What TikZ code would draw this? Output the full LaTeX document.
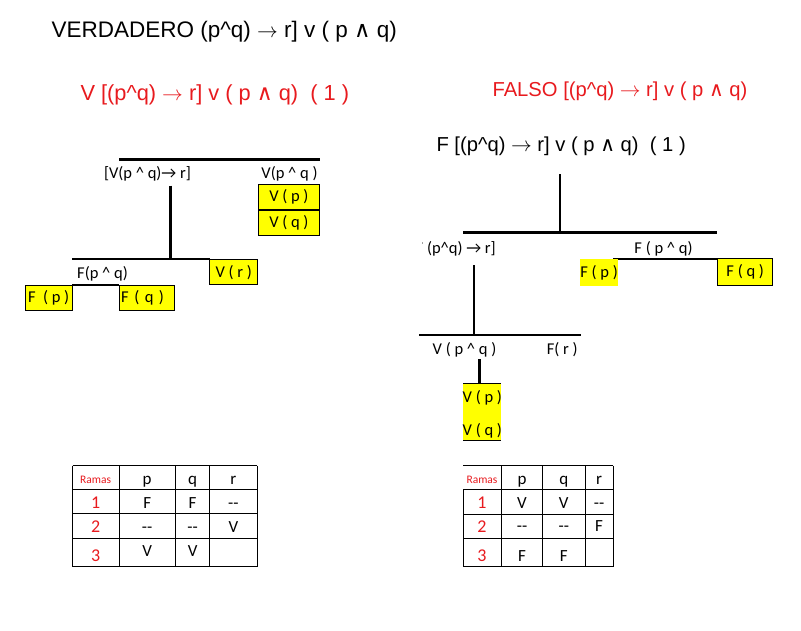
\documentclass[tikz,border=0pt]{standalone}
\usepackage{fontspec}
\setmainfont{Liberation Sans}
\newfontfamily\calib{Carlito}
\newfontfamily\djv{DejaVu Sans}
\newcommand{\yla}{{\djv ∧}}
\newcommand{\gorro}{\textasciicircum}
\newcommand{\flecha}{$\rightarrow$}
\newcommand{\dosg}{{-}{-}}
\definecolor{rojo}{RGB}{232,26,30}
\definecolor{amarillo}{RGB}{255,255,0}
\tikzset{
  titulo/.style={font=\fontsize{22.5}{24}\selectfont},
  subtit/.style={font=\fontsize{20}{22}\selectfont, text=rojo},
  chico/.style={font=\calib\fontsize{16.5}{18}\selectfont, inner sep=0pt},
  ybox/.style={draw=black, fill=amarillo, line width=0.8pt, inner sep=1.5pt, minimum height=25pt, font=\calib\fontsize{16.5}{18}\selectfont},
  rama/.style={line width=2.6pt},
  tabla/.style={line width=0.8pt},
  celda/.style={font=\calib\fontsize{17}{19}\selectfont, inner sep=0pt, anchor=base},
  nrama/.style={font=\calib\fontsize{18}{20}\selectfont, inner sep=0pt, text=rojo, anchor=base},
  cram/.style={font=\calib\fontsize{11.5}{13}\selectfont, inner sep=0pt, text=rojo, anchor=base}
}
\begin{document}
\begin{tikzpicture}[x=1pt,y=-1pt]
	\useasboundingbox[fill=white] (0,0) rectangle (801,630);
	% titulos
	\node[titulo, anchor=west] (T) at (48,31.7) {VERDADERO (p\gorro q) \flecha\ r] v ( p \yla\ q)};
	\node[subtit, anchor=west, font=\fontsize{21.8}{23}\selectfont] (TV) at (77,95) {V [(p\gorro q) \flecha\ r] v ( p \yla\ q)~ ( 1 )};
	\node[subtit, anchor=west, font=\fontsize{20.2}{22}\selectfont] (TF) at (489,91) {FALSO [(p\gorro q) \flecha\ r] v ( p \yla\ q)};
	% arbol verdadero
	\draw[rama] (119,159.3) -- (320,159.3);
	\node[chico] (A1) at (147.5,174) {[V(p \gorro\ q)→ r]};
	\node[chico] (A2) at (289.5,174) {V(p \gorro\ q )};
	\node[ybox, minimum width=61.6pt, anchor=north west] (Vp) at (257.7,184.3) {V ( p )};
	\node[ybox, minimum width=61.6pt, anchor=north west] (Vq) at (Vp.south west) {V ( q )};
	\draw[rama] (170.7,185.7) -- (170.7,259);
	\draw[rama] (72.3,259) -- (210,259);
	\node[ybox, minimum width=48pt, anchor=north west] (Vr) at (209.3,259.3) {V ( r )};
	\node[chico] (A3) at (102.5,273.5) {F(p \gorro\ q)};
	\draw[rama, line width=2pt] (72.3,285.3) -- (119.3,285.3);
	\node[ybox, minimum width=46.6pt, inner sep=0pt, anchor=north east] (Fp) at (72.3,285.3) {F~ ( p )};
	\node[ybox, text width=52pt, align=left, anchor=north west] (Fq) at (119.3,285.3) {F ( q )};
	% arbol falso
	\node[titulo, anchor=west, font=\fontsize{20.2}{22}\selectfont] (TF1) at (433,146) {F [(p\gorro q) \flecha\ r] v ( p \yla\ q)~ ( 1 )};
	\draw[rama] (560,174.3) -- (560,232.7);
	\draw[rama] (463.3,232.7) -- (717.3,232.7);
	\begin{scope}
		\clip (422.5,236) rectangle (520,262);
		\node[chico, anchor=east] (B1) at (496,248.3) {F (p\gorro q) → r]};
	\end{scope}
	\node[chico] (B2) at (663.5,248.3) {F ( p \gorro\ q)};
	\draw[rama, line width=2pt] (613.3,258.5) -- (717.3,258.5);
	\node[ybox, draw=none, minimum width=34pt, inner sep=0pt, minimum height=27pt, anchor=north west] (Fp2) at (580,258.7) {F ( p )};
	\node[ybox, minimum width=55pt, minimum height=26.7pt, anchor=north west] (Fq2) at (717.3,258.3) {F ( q )};
	\draw[rama] (474,265) -- (474,335);
	\draw[rama] (419,335) -- (580.7,335);
	\node[chico] (B3) at (464.5,349.3) {V ( p \gorro\ q )};
	\node[chico] (B4) at (562.2,349.3) {F( r )};
	\draw[rama] (479.3,359) -- (479.3,383.3);
	\fill[amarillo] (463.3,383.3) rectangle (500.5,440.5);
	\draw[tabla] (463.3,383.3) -- (500.5,383.3);
	\draw[tabla] (463.3,440.5) -- (500.5,440.5);
	\node[chico, anchor=west] (Vp2) at (462.5,397.5) {V ( p )};
	\node[chico, anchor=west] (Vq2) at (462.5,430.5) {V ( q )};
	% tabla izquierda
	\foreach \x in {72.5,119,175.5,209.8,257}
		\draw[tabla] (\x,465.7) -- (\x,566.7);
	\foreach \y in {465.7,489.5,513.8,538.5,566.7}
		\draw[tabla] (72.5,\y) -- (257,\y);
	\node[cram] (Lram) at (95.7,483.3) {Ramas};
	\node[celda] (Lp) at (147.2,484) {p};
	\node[celda] (Lq) at (192.6,484) {q};
	\node[celda] (Lr) at (233.4,484) {r};
	\foreach \n/\yl/\yv/\a/\b/\c in {1/508.3/508.3/F/F/\dosg, 2/532.3/532.3/\dosg/\dosg/V, 3/561.7/556.7/V/V/{}} {
		\node[nrama] (L\n) at (95.7,\yl) {\n};
		\node[celda] (L\n p) at (147.2,\yv) {\a};
		\node[celda] (L\n q) at (192.6,\yv) {\b};
		\node[celda] (L\n r) at (233.4,\yv) {\c};
	}
	% tabla derecha
	\foreach \x in {501.5,542.7,585,613}
		\draw[tabla] (\x,465.7) -- (\x,566.5);
	\draw[tabla] (463,489.8) -- (463,566.5);
	\foreach \y in {465.7,489.8,514,538.3,566.5}
		\draw[tabla] (463,\y) -- (613,\y);
	\node[cram] (Rram) at (482,483.3) {Ramas};
	\node[celda] (Rp) at (522,484) {p};
	\node[celda] (Rq) at (563.8,484) {q};
	\node[celda] (Rr) at (599,484) {r};
	\foreach \n/\yl/\yv/\a/\b/\c in {1/508.3/508.6/V/V/\dosg, 2/532/531.7/\dosg/\dosg/F, 3/561/561/F/F/{}} {
		\node[nrama] (R\n) at (482,\yl) {\n};
		\node[celda] (R\n p) at (522,\yv) {\a};
		\node[celda] (R\n q) at (563.8,\yv) {\b};
		\node[celda] (R\n r) at (599,\yv) {\c};
	}
\end{tikzpicture}
\end{document}
